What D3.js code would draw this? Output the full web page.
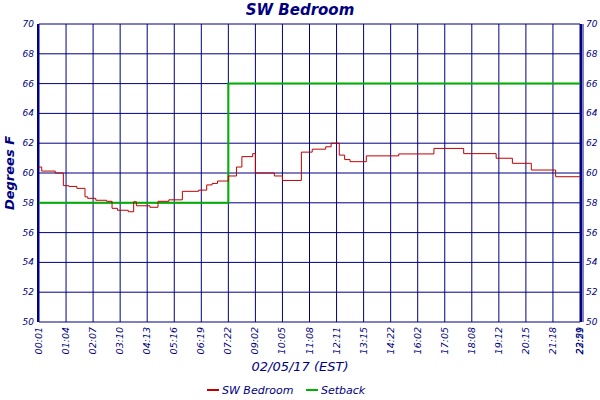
<!DOCTYPE html><html><head><meta charset="utf-8">
<script src="https://cdn.jsdelivr.net/npm/d3@7"></script>
<style>body{margin:0;background:#fff}text{font-family:"DejaVu Sans",sans-serif;font-style:italic;fill:#000080}</style>
</head><body><svg id="c" width="600" height="400"></svg><script>
// sample index -> value (change points of stepped reading)
const tempIdx = [0,1,6,9,11,14,17,18,21,25,27,29,33,35,36,41,44,48,53,59,62,64,66,70,73,75,79,80,87,90,97,101,106,108,111,113,115,121,133,146,157,169,175,182,191,200];
const tempVal = [60.4,60.13,60.0,59.15,59.1,58.97,58.4,58.3,58.17,58.1,57.63,57.5,57.4,58.07,57.8,57.7,58.1,58.2,58.77,58.85,59.2,59.3,59.46,59.8,60.4,61.1,61.3,60.0,59.8,59.5,61.4,61.6,61.76,62.0,61.2,60.9,60.76,61.15,61.28,61.65,61.3,60.99,60.65,60.2,59.75,59.75];
const setIdx = [0,70,70,200];
const setVal = [58,58,66,66];
const tickIdx = [0,10,20,30,40,50,60,70,80,90,100,110,120,130,140,150,160,170,180,190,200];
const tickLabels = ["00:01","01:04","02:07","03:10","04:13","05:16","06:19","07:22","09:02","10:05","11:08","12:11","13:15","14:22","16:02","17:05","18:08","19:12","20:15","21:18","22:21"];
const yTicks = [50,52,54,56,58,60,62,64,66,68,70];
const navy="#000080";
const svg=d3.select("#c");
const L=39,R=580,T=24,B=322;
const x=d3.scaleLinear().domain([0,200]).range([L,R]);
const y=d3.scaleLinear().domain([50,70]).range([B,T]);
const g=svg.append("g");
yTicks.forEach(v=>g.append("line").attr("x1",L).attr("x2",R).attr("y1",y(v)).attr("y2",y(v)).attr("stroke",navy));
tickIdx.forEach(v=>g.append("line").attr("x1",x(v)).attr("x2",x(v)).attr("y1",T).attr("y2",B).attr("stroke",navy));
g.append("line").attr("x1",L-1).attr("x2",L-1).attr("y1",T).attr("y2",B).attr("stroke",navy).attr("stroke-width",2);
g.append("line").attr("x1",R+1).attr("x2",R+1).attr("y1",T).attr("y2",B).attr("stroke",navy).attr("stroke-width",2);
g.append("line").attr("x1",R+3).attr("x2",R+3).attr("y1",T).attr("y2",B).attr("stroke",navy).attr("stroke-width",1);
yTicks.forEach(v=>{
  g.append("text").attr("x",L-5).attr("y",y(v)+3).attr("text-anchor","end").attr("font-size",9).text(v);
  g.append("text").attr("x",R+6).attr("y",y(v)+3).attr("font-size",9).text(v);
});
tickIdx.forEach((v,i)=>g.append("text").attr("transform",`translate(${x(v)+3},${B+5}) rotate(-90)`).attr("text-anchor","end").attr("font-size",9.5).text(tickLabels[i]));
g.append("text").attr("transform",`translate(${x(200)+3},${B+5}) rotate(-90)`).attr("text-anchor","end").attr("font-size",9.5).text("23:59");
const line=d3.line().x(d=>x(d[0])).y(d=>y(d[1])).curve(d3.curveStepAfter);
g.append("path").datum(setIdx.map((v,i)=>[v,setVal[i]])).attr("d",d3.line().x(d=>x(d[0])).y(d=>y(d[1]))).attr("fill","none").attr("stroke","#00b000").attr("stroke-width",2);
g.append("path").datum(tempIdx.map((v,i)=>[v,tempVal[i]])).attr("d",line).attr("fill","none").attr("stroke","#c00000").attr("stroke-width",1);
svg.append("text").attr("x",300).attr("y",15).attr("text-anchor","middle").attr("font-size",15).attr("font-weight","bold").text("SW Bedroom");
svg.append("text").attr("transform","translate(14,173) rotate(-90)").attr("text-anchor","middle").attr("font-size",13).attr("font-weight","bold").text("Degrees F");
svg.append("text").attr("x",300).attr("y",371).attr("text-anchor","middle").attr("font-size",13).text("02/05/17 (EST)");
const lg=[["SW Bedroom","#c00000",207],["Setback","#00b000",306]];
lg.forEach(d=>{svg.append("line").attr("x1",d[2]).attr("x2",d[2]+12).attr("y1",390).attr("y2",390).attr("stroke",d[1]).attr("stroke-width",2);
svg.append("text").attr("x",d[2]+15).attr("y",394).attr("font-size",11).text(d[0]);});
</script></body></html>
